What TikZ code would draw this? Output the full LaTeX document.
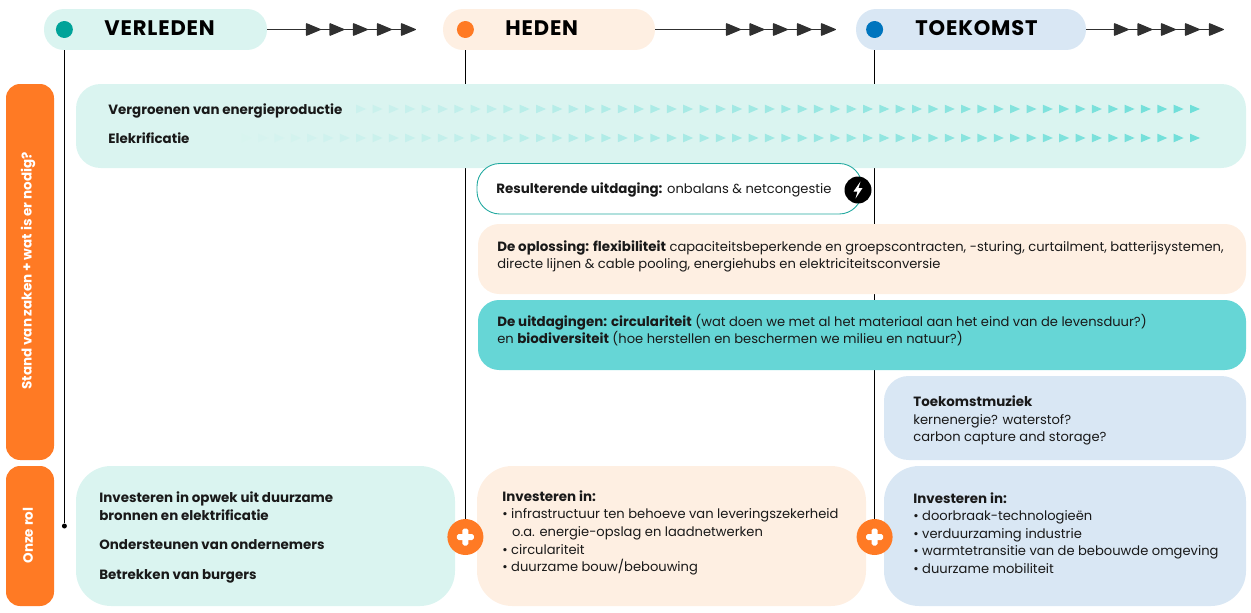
\documentclass[tikz,border=0pt]{standalone}
\usepackage{fontspec}
\setmainfont{Poppins}[BoldFeatures={Scale=1.025}]
\usepackage{tikz}
\usetikzlibrary{positioning}
\usetikzlibrary{backgrounds}
\definecolor{tealpale}{RGB}{218,244,240}
\definecolor{tealmid}{RGB}{102,214,214}
\definecolor{tealtip}{RGB}{112,223,217}
\definecolor{tealdark}{RGB}{0,163,153}
\definecolor{tealline}{RGB}{34,169,160}
\definecolor{orangepale}{RGB}{254,239,226}
\definecolor{orangefull}{RGB}{255,122,36}
\definecolor{bluepale}{RGB}{217,231,244}
\definecolor{bluefull}{RGB}{0,117,190}
\definecolor{tipdark}{RGB}{48,48,48}
\tikzset{
	pillbox/.style={inner sep=0pt, minimum height=0.82cm, rounded corners=0.4cm},
	dotnode/.style={circle, inner sep=0pt, minimum size=0.34cm},
	plusnode/.style={circle, inner sep=0pt, minimum size=0.72cm, fill=orangefull},
	headtext/.style={anchor=west, inner sep=0pt, font=\fontsize{11.7}{13}\selectfont\bfseries\addfontfeature{LetterSpace=4}},
	boxtext/.style={anchor=west, inner sep=0pt, align=left, text=black!90, font=\fontsize{7.45}{10.05}\selectfont},
	sidetext/.style={inner sep=0pt, rotate=90, text=white, font=\fontsize{7.5}{9}\selectfont\bfseries},
	timeline/.style={line width=0.6pt, color=black},
	linktip/.style={line width=0.5pt, color=tipdark}
}
\begin{document}
\begin{tikzpicture}[x=0.02cm,y=-0.02cm]
	\useasboundingbox (0,0) rectangle (1251,612);

	\node[pillbox, fill=tealpale, minimum width=4.46cm] (verleden) at (155.5,29.5) {};
	\node[pillbox, fill=orangepale, minimum width=4.24cm] (heden) at (549,29.5) {};
	\node[pillbox, fill=bluepale, minimum width=4.6cm] (toekomst) at (971,29.5) {};

	\node[headtext] (txtverleden) at (104,28) {VERLEDEN};
	\node[headtext] (txtheden) at (505,28) {HEDEN};
	\node[headtext] (txttoekomst) at (915,28) {TOEKOMST};

	\node[dotnode, fill=tealdark] (dotverleden) at (64.4,29.5) {};
	\node[dotnode, fill=orangefull] (dotheden) at (465.4,29.5) {};
	\node[dotnode, fill=bluefull] (dottoekomst) at (874.6,29.5) {};

	\coordinate (endverleden) at (416,29.5);
	\coordinate (endheden) at (836,29.5);
	\coordinate (endtoekomst) at (1224,29.5);
	\draw[linktip] (verleden.east) -- (endverleden);
	\draw[linktip] (heden.east) -- (endheden);
	\draw[linktip] (toekomst.east) -- (endtoekomst);
	\foreach \off in {0,420,808}
		\foreach \x in {306,329.5,353,377,401}
			\filldraw[tipdark, line width=0.7pt, line join=round] (\x+\off+0.6,23.8) -- (\x+\off+14.2,29.5) -- (\x+\off+0.6,35.2) -- cycle;

	\fill[orangefull, rounded corners=8] (6,84) rectangle (54,460);
	\fill[orangefull, rounded corners=8] (6,466) rectangle (54,606);
	\node[sidetext] (txtstand) at (28,271) {Stand van zaken + wat is er nodig?};
	\node[sidetext] (txtrol) at (28,535.5) {Onze rol};

	\fill[tealpale, rounded corners=14] (76,84) rectangle (1246,168);
	\foreach \n in {0,...,51} {
		\pgfmathsetmacro{\px}{1190-16.35*\n}
		\pgfmathsetmacro{\pc}{max(0,(\px-223)/9.67)}
		\fill[tealtip!\pc!tealpale] (\px,104.7) -- (\px+10,109) -- (\px,113.3) -- cycle;
	}
	\foreach \n in {0,...,59} {
		\pgfmathsetmacro{\px}{1190-16.35*\n}
		\pgfmathsetmacro{\pc}{max(0,(\px-223)/9.67)}
		\fill[tealtip!\pc!tealpale] (\px,133.7) -- (\px+10,138) -- (\px,142.3) -- cycle;
	}
	\node[boxtext] (txtgroen) at (108,110.5) {\bfseries Vergroenen van energieproductie};
	\node[boxtext] (txtelek) at (108,138.5) {\bfseries Elekrificatie};

	\draw[line width=0.5pt, color=tealline, fill=white, rounded corners=13] (477,163.5) rectangle (862,214);
	\node[boxtext] (txtuitdaging) at (496,189.5) {{\bfseries Resulterende uitdaging:} onbalans \& netcongestie};
	\node[circle, fill=black, inner sep=0pt, minimum size=0.54cm] (bolt) at (858,190) {};
	\fill[white] (860.5,181.5) -- (853.5,191.5) -- (857.5,191.5) -- (855.5,198.5) -- (862.5,188) -- (858.5,188) -- cycle;

	\fill[orangepale, rounded corners=12] (478,224) rectangle (1246,294);
	\node[boxtext] (txtoplossing) at (497,256.5) {{\bfseries De oplossing: flexibiliteit} capaciteitsbeperkende en groepscontracten, -sturing, curtailment, batterijsystemen,\\directe lijnen \& cable pooling, energiehubs en elektriciteitsconversie};

	\fill[tealmid, rounded corners=12] (478,300) rectangle (1246,370);
	\node[boxtext] (txtcirculair) at (497,330) {{\bfseries De uitdagingen: circulariteit} (wat doen we met al het materiaal aan het eind van de levensduur?)\\en {\bfseries biodiversiteit} (hoe herstellen en beschermen we milieu en natuur?)};

	\fill[bluepale, rounded corners=14] (884,376) rectangle (1246,460);
	\node[boxtext] (txtmuziek) at (913,420.5) {{\bfseries Toekomstmuziek}\\kernenergie? waterstof?\\carbon capture and storage?};

	\fill[tealpale, rounded corners=20] (76,466) rectangle (455,606);
	\fill[orangepale, rounded corners=20] (477,466) rectangle (866,606);
	\fill[bluepale, rounded corners=20] (884,466) rectangle (1246,606);

	\node[boxtext] (txtopwek) at (99,506) {\bfseries Investeren in opwek uit duurzame\\\bfseries bronnen en elektrificatie};
	\node[boxtext] (txtonder) at (99,545) {\bfseries Ondersteunen van ondernemers};
	\node[boxtext] (txtburger) at (99,576) {\bfseries Betrekken van burgers};

	\node[boxtext] (txtinvmid) at (502,533) {{\bfseries Investeren in:}\\• infrastructuur ten behoeve van leveringszekerheid\\\hspace*{5.6pt}o.a. energie-opslag en laadnetwerken\\• circulariteit\\• duurzame bouw/bebouwing};
	\node[boxtext] (txtinvright) at (913,533) {{\bfseries Investeren in:}\\• doorbraak-technologieën\\• verduurzaming industrie\\• warmtetransitie van de bebouwde omgeving\\• duurzame mobiliteit};

	\node[circle, fill=black, inner sep=0pt, minimum size=0.1cm] (endpoint) at (64.4,526) {};
	\node[plusnode] (plusheden) at (465.4,537) {};
	\node[plusnode] (plustoekomst) at (874.6,537) {};
	\fill[white, rounded corners=1] (456.9,534) rectangle (473.9,540);
	\fill[white, rounded corners=1] (462.4,528.5) rectangle (468.4,545.5);
	\fill[white, rounded corners=1] (866.1,534) rectangle (883.1,540);
	\fill[white, rounded corners=1] (871.6,528.5) rectangle (877.6,545.5);

	\begin{scope}[on background layer]
		\draw[timeline] (dotverleden) -- (endpoint);
		\draw[timeline] (dotheden) -- (plusheden);
		\draw[timeline] (dottoekomst) -- (plustoekomst);
	\end{scope}
\end{tikzpicture}
\end{document}
